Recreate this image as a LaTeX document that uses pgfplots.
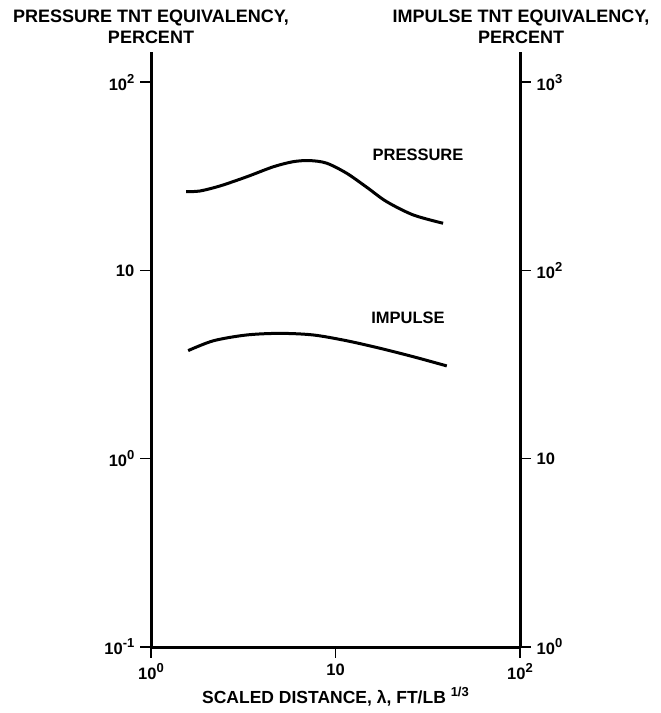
\documentclass[border=0pt]{standalone}
\usepackage{fontspec}
\setmainfont{Liberation Sans}
\usepackage{pgfplots}
\pgfplotsset{compat=1.18}
\newcommand\sups[1]{\raisebox{0.42em}{\fontsize{13bp}{14bp}\selectfont #1}}
\begin{document}
\fontsize{16.5bp}{19bp}\selectfont\bfseries
\begin{tikzpicture}[font=\fontsize{16.5bp}{21bp}\selectfont\bfseries]
\useasboundingbox (0,0) rectangle (661bp,713bp);
\begin{axis}[
  at={(151bp,66bp)}, anchor=south west,
  scale only axis, width=369bp, height=595bp,
  xmode=log, ymode=log, xmin=1, xmax=100,
  ymin=0.1, ymax=144.5,
  xminorticks=false, yminorticks=false,
  axis x line*=bottom, axis y line*=left,
  axis line style={line width=3bp, -},
  tick align=outside, major tick length=11bp,
  tick style={line width=1.4bp, black},
  tick label style={font=\fontsize{16.5bp}{19bp}\selectfont\bfseries},
  label style={font=\fontsize{17.5bp}{19bp}\selectfont\bfseries},
  xtick={1,10,100}, xticklabels={10\sups{0},10,10\sups{2}},
  ytick={0.1,1,10,100}, yticklabels={10\sups{-1},10\sups{0},10,10\sups{2}},
  xlabel={SCALED DISTANCE, λ, FT/LB \sups{1/3}},
  xlabel style={yshift=4bp},
]
\addplot[black, line width=3bp, smooth, tension=0.5] coordinates {
 (1.55,26.2) (1.84,26.4) (2.37,28.1) (3.30,31.4) (4.60,35.5) (5.91,37.8) (7.27,38.3) (8.96,37.1) (11.5,32.8) (14.8,27.6) (18.9,23.2) (26.4,19.7) (38.3,17.8)
};
\node[font=\fontsize{16.5bp}{19bp}\selectfont\bfseries] at (axis cs:28,41) {PRESSURE};
\node[font=\fontsize{16.5bp}{19bp}\selectfont\bfseries] at (axis cs:24.7,5.58) {IMPULSE};
\end{axis}
\begin{axis}[
  at={(151bp,66bp)}, anchor=south west,
  scale only axis, width=369bp, height=595bp,
  xmode=log, ymode=log, xmin=1, xmax=100,
  ymin=1, ymax=1445,
  xminorticks=false, yminorticks=false,
  axis x line=none, axis y line*=right,
  axis line style={line width=3bp, -},
  tick align=outside, major tick length=11bp,
  tick style={line width=1.4bp, black},
  tick label style={font=\fontsize{16.5bp}{19bp}\selectfont\bfseries},
  ytick={1,10,100,1000}, yticklabels={10\sups{0},10,10\sups{2},10\sups{3}},
]
\addplot[black, line width=3bp, smooth, tension=0.5] coordinates {
 (1.59,37.5) (2.18,42.3) (3.30,45.4) (5.0,46.3) (7.58,45.4) (11.5,42.3) (17.4,38.6) (26.4,34.8) (40.1,31.1)
};
\end{axis}
\node[align=center, anchor=north, font=\fontsize{18bp}{21bp}\selectfont\bfseries] at (151bp,709bp) {PRESSURE TNT EQUIVALENCY,\\PERCENT};
\node[align=center, anchor=north, font=\fontsize{18bp}{21bp}\selectfont\bfseries] at (521bp,709bp) {IMPULSE TNT EQUIVALENCY,\\PERCENT};
\end{tikzpicture}
\end{document}
